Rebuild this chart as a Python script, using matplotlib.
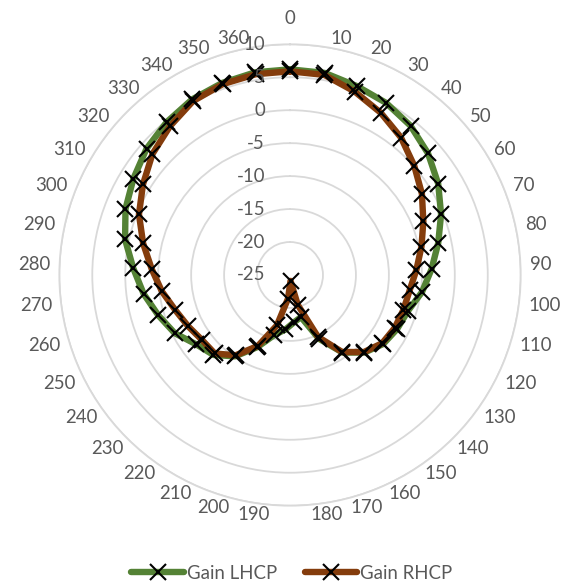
import numpy as np
import matplotlib
matplotlib.use("Agg")
import matplotlib.pyplot as plt
from matplotlib.lines import Line2D
from matplotlib.transforms import offset_copy

plt.rcParams['font.family'] = ['Lato', 'DejaVu Sans']

categories = ['0', '10', '20', '30', '40', '50', '60', '70', '80', '90',
              '100', '110', '120', '130', '140', '150', '160', '170', '180',
              '190', '200', '210', '220', '230', '240', '250', '260', '270',
              '280', '290', '300', '310', '320', '330', '340', '350', '360']

gain_lhcp = [6.2, 6.1, 5.4, 4.9, 4.1, 2.9, 1.4, -0.3, -2.0, -3.5,
             -4.8, -6.3, -6.8, -7.4, -8.7, -10.8, -14.4, -18.4, -17.8,
             -16.7, -15.6, -13.0, -10.1, -8.2, -7.3, -5.4, -4.1, -2.6,
             -1.2, 0.6, 1.9, 2.9, 4.0, 4.8, 5.5, 5.9, 6.2]

gain_rhcp = [5.9, 5.8, 4.5, 3.2, 1.8, 0.1, -1.5, -3.2, -4.6, -5.8,
             -6.7, -7.0, -7.2, -7.6, -8.8, -10.9, -14.7, -20.3, -24.1,
             -21.4, -17.1, -13.2, -10.3, -8.5, -8.4, -7.7, -6.8, -5.4,
             -4.0, -2.2, -0.3, 1.2, 2.8, 4.0, 5.2, 5.7, 5.9]

r_ticks = [-25, -20, -15, -10, -5, 0, 5, 10]
r_min, r_max = -25, 10

series_names = ['Gain LHCP', 'Gain RHCP']
series_colors = ['#548235', '#843C0C']

TEXT = '#595959'
GRID = '#D9D9D9'
FS = 13.4

fig = plt.figure(figsize=(5.66, 5.85), dpi=100)
ax = fig.add_axes([0.1048, 0.1356, 0.8152, 0.7887], projection='polar')
ax.set_theta_zero_location('N')
ax.set_theta_direction(-1)

n = len(categories)
theta = np.arange(n) * 2 * np.pi / n
theta_closed = np.append(theta, theta[0])

for vals, col in zip([gain_lhcp, gain_rhcp], series_colors):
    v = np.append(vals, vals[0])
    ax.plot(theta_closed, v, color=col, lw=4.6, solid_joinstyle='round',
            solid_capstyle='round', zorder=3)
    ax.plot(theta, vals, ls='none', marker='x', ms=11, mew=1.5,
            color='black', zorder=4)

ax.set_ylim(r_min, r_max)
ax.set_yticks([t for t in r_ticks if t > r_min])
ax.set_yticklabels([])
ax.yaxis.grid(True, color=GRID, lw=1.3)
ax.xaxis.grid(False)
ax.set_xticks([])
ax.spines['polar'].set_color(GRID)
ax.spines['polar'].set_linewidth(1.3)

# radial value labels (left of the 0-degree axis)
rtrans = offset_copy(ax.transData, fig=fig, x=-25, y=0, units='dots')
for t in r_ticks:
    ax.text(0, t, str(t), transform=rtrans, ha='right', va='center',
            fontsize=FS, color=TEXT, zorder=5, clip_on=False)

# category labels around the circle
D = 240 - 230.7
for ang, lab in zip(theta, categories):
    s, c = np.sin(ang), np.cos(ang)
    if abs(s) < 0.01:
        ha, va, d = 'center', 'bottom', 248 - 230.7
    else:
        ha = 'left' if s > 0 else 'right'
        va, d = 'center', D
    tr = offset_copy(ax.transData, fig=fig, x=d * s, y=d * c, units='dots')
    ax.text(ang, r_max, lab, transform=tr, ha=ha, va=va, fontsize=FS,
            color=TEXT, clip_on=False)

handles = [Line2D([], [], color=col, lw=4.6, marker='x', ms=11, mew=1.5,
                  mec='black', solid_capstyle='round')
           for col in series_colors]
fig.legend(handles, series_names, loc='center', bbox_to_anchor=(0.516, 0.0205),
           ncol=2, frameon=False, fontsize=FS, labelcolor=TEXT,
           handlelength=2.8, handletextpad=0.2, columnspacing=1.45,
           numpoints=1)

fig.savefig('out.png', dpi=100)
